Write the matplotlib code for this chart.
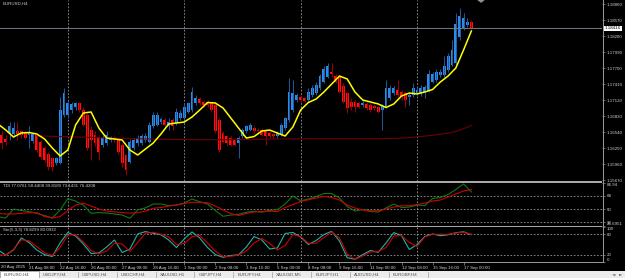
import numpy as np
import matplotlib
matplotlib.use('Agg')
import matplotlib.pyplot as plt
from matplotlib.patches import Rectangle, Polygon
from matplotlib.lines import Line2D

# EURUSD H4, 20 Aug 2025 00:00 .. 17 Sep 2025 08:00 (123 bars)
opens = [
    1.1658, 1.1649, 1.1641, 1.1652, 1.1650, 1.1656, 1.1655, 1.1653, 1.1649, 1.1638,
    1.1649, 1.1636, 1.1625, 1.1615, 1.1606, 1.1597, 1.1597, 1.1685, 1.1685, 1.1694,
    1.1699, 1.1706, 1.1694, 1.1685, 1.1658, 1.1649, 1.1643, 1.1631, 1.1634, 1.1640,
    1.1644, 1.1641, 1.1631, 1.1612, 1.1600, 1.1625, 1.1634, 1.1634, 1.1640, 1.1636,
    1.1664, 1.1667, 1.1673, 1.1676, 1.1664, 1.1676, 1.1670, 1.1679, 1.1679, 1.1691,
    1.1694, 1.1706, 1.1713, 1.1709, 1.1709, 1.1706, 1.1703, 1.1676, 1.1652, 1.1646,
    1.1643, 1.1640, 1.1634, 1.1646, 1.1655, 1.1658, 1.1661, 1.1658, 1.1658, 1.1655,
    1.1652, 1.1650, 1.1646, 1.1649, 1.1661, 1.1676, 1.1694, 1.1712, 1.1718, 1.1715,
    1.1712, 1.1721, 1.1724, 1.1733, 1.1745, 1.1754, 1.1763, 1.1755, 1.1754, 1.1737,
    1.1724, 1.1709, 1.1709, 1.1706, 1.1703, 1.1705, 1.1703, 1.1701, 1.1699, 1.1694,
    1.1700, 1.1715, 1.1724, 1.1730, 1.1727, 1.1724, 1.1718, 1.1721, 1.1725, 1.1724,
    1.1727, 1.1729, 1.1745, 1.1748, 1.1757, 1.1757, 1.1766, 1.1776, 1.1779, 1.1827,
    1.1842, 1.1848, 1.1853]
highs = [
    1.1664, 1.1655, 1.1649, 1.1673, 1.1673, 1.1673, 1.1658, 1.1656, 1.1664, 1.1653,
    1.1652, 1.1640, 1.1629, 1.1618, 1.1609, 1.1609, 1.1718, 1.1733, 1.1712, 1.1709,
    1.1709, 1.1709, 1.1700, 1.1688, 1.1664, 1.1655, 1.1646, 1.1649, 1.1655, 1.1647,
    1.1647, 1.1644, 1.1634, 1.1615, 1.1641, 1.1644, 1.1649, 1.1650, 1.1652, 1.1673,
    1.1691, 1.1691, 1.1682, 1.1679, 1.1679, 1.1679, 1.1697, 1.1694, 1.1706, 1.1709,
    1.1736, 1.1721, 1.1718, 1.1712, 1.1712, 1.1709, 1.1706, 1.1679, 1.1655, 1.1649,
    1.1646, 1.1643, 1.1646, 1.1661, 1.1667, 1.1670, 1.1664, 1.1661, 1.1661, 1.1658,
    1.1655, 1.1653, 1.1655, 1.1670, 1.1682, 1.1751, 1.1748, 1.1724, 1.1721, 1.1718,
    1.1733, 1.1739, 1.1745, 1.1760, 1.1773, 1.1779, 1.1779, 1.1760, 1.1757, 1.1742,
    1.1727, 1.1715, 1.1712, 1.1709, 1.1712, 1.1709, 1.1706, 1.1705, 1.1701, 1.1705,
    1.1748, 1.1739, 1.1737, 1.1748, 1.1731, 1.1729, 1.1725, 1.1742, 1.1735, 1.1739,
    1.1739, 1.1766, 1.1763, 1.1768, 1.1769, 1.1791, 1.1797, 1.1821, 1.1869, 1.1878,
    1.1869, 1.1860, 1.1857]
lows = [
    1.1626, 1.1623, 1.1631, 1.1640, 1.1646, 1.1640, 1.1644, 1.1641, 1.1625, 1.1634,
    1.1618, 1.1605, 1.1600, 1.1585, 1.1584, 1.1594, 1.1596, 1.1682, 1.1679, 1.1688,
    1.1694, 1.1691, 1.1664, 1.1621, 1.1603, 1.1628, 1.1603, 1.1626, 1.1631, 1.1636,
    1.1635, 1.1615, 1.1591, 1.1576, 1.1597, 1.1621, 1.1629, 1.1631, 1.1636, 1.1634,
    1.1661, 1.1664, 1.1669, 1.1664, 1.1658, 1.1658, 1.1667, 1.1676, 1.1676, 1.1688,
    1.1691, 1.1703, 1.1703, 1.1700, 1.1700, 1.1691, 1.1652, 1.1618, 1.1634, 1.1631,
    1.1628, 1.1628, 1.1606, 1.1643, 1.1652, 1.1655, 1.1652, 1.1653, 1.1646, 1.1631,
    1.1643, 1.1643, 1.1643, 1.1646, 1.1658, 1.1673, 1.1691, 1.1709, 1.1709, 1.1708,
    1.1709, 1.1718, 1.1721, 1.1730, 1.1742, 1.1751, 1.1754, 1.1742, 1.1724, 1.1706,
    1.1688, 1.1694, 1.1691, 1.1697, 1.1700, 1.1694, 1.1691, 1.1694, 1.1688, 1.1658,
    1.1697, 1.1712, 1.1721, 1.1718, 1.1712, 1.1700, 1.1703, 1.1718, 1.1721, 1.1719,
    1.1715, 1.1727, 1.1742, 1.1745, 1.1754, 1.1754, 1.1763, 1.1773, 1.1776, 1.1821,
    1.1839, 1.1845, 1.1840]
closes = [
    1.1636, 1.1634, 1.1636, 1.1664, 1.1661, 1.1650, 1.1649, 1.1644, 1.1653, 1.1650,
    1.1621, 1.1609, 1.1603, 1.1591, 1.1591, 1.1606, 1.1694, 1.1724, 1.1706, 1.1705,
    1.1706, 1.1694, 1.1667, 1.1625, 1.1640, 1.1634, 1.1618, 1.1643, 1.1649, 1.1644,
    1.1640, 1.1618, 1.1597, 1.1585, 1.1636, 1.1640, 1.1643, 1.1646, 1.1647, 1.1667,
    1.1685, 1.1685, 1.1677, 1.1667, 1.1673, 1.1664, 1.1691, 1.1688, 1.1700, 1.1706,
    1.1727, 1.1715, 1.1706, 1.1703, 1.1703, 1.1694, 1.1655, 1.1621, 1.1636, 1.1634,
    1.1631, 1.1631, 1.1643, 1.1658, 1.1664, 1.1667, 1.1655, 1.1655, 1.1649, 1.1647,
    1.1646, 1.1646, 1.1652, 1.1667, 1.1679, 1.1727, 1.1724, 1.1721, 1.1712, 1.1711,
    1.1727, 1.1733, 1.1739, 1.1755, 1.1768, 1.1773, 1.1760, 1.1745, 1.1727, 1.1709,
    1.1697, 1.1700, 1.1700, 1.1700, 1.1707, 1.1697, 1.1693, 1.1697, 1.1691, 1.1701,
    1.1733, 1.1733, 1.1733, 1.1721, 1.1718, 1.1712, 1.1721, 1.1733, 1.1731, 1.1733,
    1.1735, 1.1760, 1.1760, 1.1762, 1.1763, 1.1774, 1.1791, 1.1803, 1.1850, 1.1865,
    1.1860, 1.1854, 1.18416]

# indicator samples, every second bar (0, 2, ..., 122)
ma_fast = [
    1.16685, 1.16576, 1.16449, 1.16522, 1.16531, 1.16504, 1.16413, 1.16250, 1.16105, 1.16214,
    1.16667, 1.16884, 1.16903, 1.16612, 1.16431, 1.16413, 1.16395, 1.16214, 1.16123, 1.16232,
    1.16340, 1.16504, 1.16685, 1.16703, 1.16721, 1.16812, 1.16939, 1.17075, 1.17066, 1.16975,
    1.16794, 1.16612, 1.16431, 1.16458, 1.16558, 1.16576, 1.16522, 1.16467, 1.16631, 1.16939,
    1.17075, 1.17138, 1.17265, 1.17410, 1.17555, 1.17501, 1.17265, 1.17120, 1.17084, 1.17048,
    1.16984, 1.17048, 1.17193, 1.17247, 1.17229, 1.17265, 1.17310, 1.17446, 1.17555, 1.17700,
    1.18028, 1.18371]
tdi_price = [
    39.6, 37.9, 50.0, 48.0, 46.6, 44.2, 41.2, 37.9, 48.7, 64.2,
    60.8, 55.4, 44.2, 45.3, 44.6, 43.4, 41.9, 37.5, 48.9, 51.6,
    56.8, 56.8, 54.8, 55.4, 58.1, 63.5, 59.9, 56.8, 48.0, 40.2,
    41.9, 42.9, 45.6, 47.1, 45.7, 48.4, 48.9, 56.8, 67.6, 61.1,
    63.5, 66.9, 71.0, 71.0, 64.9, 53.4, 47.3, 49.4, 46.6, 46.0,
    51.4, 56.8, 52.1, 52.7, 55.4, 54.8, 64.2, 65.6, 69.6, 76.4,
    84.0, 73.1]
tdi_signal = [
    44.2, 43.3, 43.3, 44.2, 45.0, 45.3, 39.9, 37.9, 39.9, 48.0,
    55.4, 58.1, 54.1, 50.0, 47.3, 46.2, 45.3, 44.6, 44.9, 47.3,
    51.0, 52.1, 54.1, 55.4, 57.5, 59.1, 59.1, 58.4, 54.1, 48.7,
    43.9, 41.2, 43.9, 46.0, 46.9, 47.1, 46.6, 52.1, 56.1, 60.2,
    62.5, 64.9, 67.2, 65.6, 62.2, 55.4, 51.4, 48.7, 47.7, 47.7,
    50.0, 52.7, 54.5, 54.5, 56.1, 58.1, 60.8, 62.2, 66.2, 70.3,
    74.4, 76.4]
sto_main = [
    34.5, 20.0, 34.5, 69.3, 56.2, 34.5, 20.9, 15.7, 54.8, 85.2,
    75.1, 51.9, 24.3, 25.8, 43.2, 63.5, 27.2, 37.4, 80.9, 87.8,
    82.9, 78.6, 63.5, 41.7, 66.4, 86.7, 69.3, 41.7, 21.4, 13.3,
    18.6, 20.6, 43.2, 73.6, 63.5, 37.4, 40.3, 82.3, 85.2, 72.2,
    50.4, 62.0, 79.4, 88.7, 60.6, 12.2, 7.5, 21.4, 33.0, 27.8,
    54.8, 84.9, 76.5, 35.9, 50.4, 73.6, 80.9, 75.9, 78.6, 84.6,
    87.2, 78.8]
sto_signal = [
    20.0, 20.0, 35.9, 64.1, 61.2, 44.1, 26.4, 18.8, 41.7, 78.0,
    78.6, 57.7, 32.5, 23.5, 31.6, 53.9, 51.9, 30.1, 56.2, 82.9,
    85.8, 80.3, 72.2, 50.4, 53.3, 73.6, 76.5, 54.8, 31.0, 15.7,
    16.2, 20.0, 31.6, 54.8, 67.8, 53.9, 34.5, 47.5, 79.4, 73.6,
    53.9, 53.9, 70.7, 87.2, 69.3, 22.9, 7.0, 17.1, 28.7, 30.1,
    41.7, 75.1, 76.5, 56.2, 44.6, 72.2, 80.0, 80.0, 80.0, 83.8,
    85.8, 80.1]
# slow moving average, sampled sparsely
ma_slow_bars = [10, 20, 30, 40, 50, 60, 70, 80, 90, 100, 104, 108, 112, 116, 118, 120, 122]
ma_slow = [1.1647, 1.1645, 1.1643, 1.1641, 1.1640, 1.1640, 1.1641, 1.1642, 1.1642, 1.1642,
           1.1643, 1.1645, 1.1648, 1.1652, 1.1655, 1.1660, 1.1666]

price_ticks = [1.18860, 1.18570, 1.18280, 1.17990, 1.17700, 1.17410,
               1.17120, 1.16830, 1.16540, 1.16250, 1.15960, 1.15670]
time_bars = [8, 16, 24, 32, 40, 48, 56, 64, 72, 80, 88, 96, 104, 112, 120]
time_labels = ['21 Aug 08:00', '22 Aug 16:00', '26 Aug 00:00', '27 Aug 08:00',
               '28 Aug 16:00', '1 Sep 00:00', '2 Sep 08:00', '3 Sep 16:00',
               '5 Sep 00:00', '8 Sep 08:00', '9 Sep 16:00', '11 Sep 00:00',
               '12 Sep 08:00', '15 Sep 16:00', '17 Sep 00:00']
week_bars = [18, 48, 78, 108]
tabs = ['EURUSD,H4', 'USDJPY,H4', 'GBPUSD,H4', 'USDCHF,H4', 'XAUUSD,H1', 'GBPJPY,H4',
        'EURJPY,H4', 'XAUUSD,M5', 'EURJPY,H1', 'AUDUSD,H4', 'EURGBP,H4']

plt.rcParams['font.family'] = ['Liberation Sans', 'DejaVu Sans']
W, H = 625, 278
FS = 3.2
GRAY = '#d0d0d0'


def box(x0, y0, x1, y1):
    # pixel box -> figure fraction rect
    return [x0 / W, 1 - y1 / H, (x1 - x0) / W, (y1 - y0) / H]


o = np.array(opens); h = np.array(highs); l = np.array(lows); c = np.array(closes)
idx = np.arange(len(c))
sub = np.arange(0, len(c), 2)
xlim = (2 / 3.88, 604 / 3.88)

fig = plt.figure(figsize=(6.25, 2.78), dpi=100, facecolor='black')
ax = fig.add_axes(box(0, 0, 602, 181))
ax_tdi = fig.add_axes(box(0, 183.2, 602, 226.3))
ax_sto = fig.add_axes(box(0, 227.4, 602, 261.9))

for a in (ax, ax_tdi, ax_sto):
    a.set_facecolor('black')
    a.set_xlim(*xlim)
    for s in a.spines.values():
        s.set_visible(False)
    a.yaxis.tick_right()
    a.tick_params(axis='y', color='#909090', labelcolor=GRAY, labelsize=FS,
                  length=2, width=0.5, pad=1.2)
    a.tick_params(axis='x', bottom=False, labelbottom=False)
    for b in week_bars:
        a.axvline(b, color='#9a9a9a', lw=0.6, ls=(0, (2, 2)))

# candles
up = c >= o
wick_col = np.where(up, '#1d5aa0', '#a00000')
body_col = np.where(up, '#2a8ce8', '#ff1010')
ax.vlines(idx, l, h, colors=wick_col, lw=0.7)
body_h = np.maximum(np.abs(c - o), 0.00012)
ax.bar(idx, body_h, bottom=np.minimum(o, c), width=0.75, color=body_col, lw=0)

ax.plot(ma_slow_bars, ma_slow, color='#6e0000', lw=0.8)
ax.plot(sub, ma_fast, color='#ffff00', lw=1.1)
ax.axhline(closes[-1], color='#6f7a88', lw=0.7)

ax.set_ylim(1.156519, 1.189325)
ax.set_yticks(price_ticks)
ax.set_yticklabels(['%.5f' % p for p in price_ticks])
ax.annotate('%.5f' % closes[-1], xy=(1.0, closes[-1]), xycoords=('axes fraction', 'data'),
            xytext=(2.2, 0), textcoords='offset points', va='center', ha='left',
            fontsize=FS, color='black', annotation_clip=False,
            bbox=dict(boxstyle='square,pad=0.2', fc='white', ec='none'))
ax.text(0.005, 0.99, 'EURUSD,H4', transform=ax.transAxes, va='top', ha='left',
        fontsize=FS, color=GRAY)
# chart shift marker
ax.add_patch(Polygon([[123.5, 1.18933], [125.5, 1.18933], [124.5, 1.18880]],
                     closed=True, fc='#909090', ec='none'))

# TDI
for lv in (68, 50, 32):
    ax_tdi.axhline(lv, color='#9a9a9a', lw=0.6, ls=(0, (2, 2)))
ax_tdi.plot(sub, tdi_price, color='#0f7a0f', lw=0.8)
ax_tdi.plot(sub, tdi_signal, color='#d00000', lw=0.8)
ax_tdi.set_ylim(26.6951, 84.94)
ax_tdi.set_yticks([84.94, 68, 50, 32, 26.6951])
ax_tdi.set_yticklabels(['84.94', '68', '50', '32', '26.6951'])
tl = ax_tdi.get_yticklabels()
tl[0].set_va('top')
tl[4].set_va('bottom')
ax_tdi.text(0.005, 0.97, 'TDI 77.0761 58.4408 39.8180 73.1431 76.4208',
            transform=ax_tdi.transAxes, va='top', ha='left', fontsize=FS, color=GRAY)

# Stochastic
for lv in (80, 20):
    ax_sto.axhline(lv, color='#9a9a9a', lw=0.6, ls=(0, (2, 2)))
ax_sto.plot(sub, sto_main, color='#20b2aa', lw=0.8)
ax_sto.plot(sub, sto_signal, color='#d00000', lw=0.8)
ax_sto.set_ylim(0, 100)
ax_sto.set_yticks([100, 80, 20, 0])
ax_sto.set_yticklabels(['100', '80', '20', '0'])
sl = ax_sto.get_yticklabels()
sl[0].set_va('top')
sl[3].set_va('bottom')
ax_sto.text(0.005, 0.97, 'Sto(5,3,3) 78.8299 80.0932',
            transform=ax_sto.transAxes, va='top', ha='left', fontsize=FS, color=GRAY)

ax_sto.tick_params(axis='x', bottom=True, labelbottom=True, color='#909090',
                   labelcolor=GRAY, labelsize=FS, length=2, width=0.5, pad=1.0)
ax_sto.set_xticks(time_bars)
ax_sto.set_xticklabels(time_labels)
for t in ax_sto.get_xticklabels():
    t.set_ha('left')
fig.text(1 / W, 1 - 266.7 / H, '20 Aug 2025', fontsize=FS, color=GRAY, va='center', ha='left')

# window frame: separators, right border, bottom border
ff = fig.transFigure
fig.add_artist(Rectangle((0, 1 - 183 / H), 602 / W, 2 / H, transform=ff, fc='#a8a8a8', ec='none'))
fig.add_artist(Rectangle((0, 1 - 227.4 / H), 602 / W, 1.4 / H, transform=ff, fc='#a8a8a8', ec='none'))
fig.add_artist(Line2D([602.5 / W, 602.5 / W], [1 - 262 / H, 1], transform=ff, color='#9a9a9a', lw=0.7))
fig.add_artist(Line2D([0, 602.5 / W], [1 - 262 / H, 1 - 262 / H], transform=ff, color='#9a9a9a', lw=0.7))

# tab bar
fig.add_artist(Rectangle((0, 0), 1, 7.5 / H, transform=ff, fc='#ececec', ec='none'))
tab_w = 38.9
for k, name in enumerate(tabs):
    x0 = k * tab_w
    if k == 0:
        fig.add_artist(Rectangle((x0 / W, 0), tab_w / W, 7.5 / H, transform=ff,
                                 fc='white', ec='#909090', lw=0.5))
    else:
        fig.add_artist(Line2D([(x0 + tab_w) / W] * 2, [0.5 / H, 6 / H], transform=ff,
                              color='#a0a0a0', lw=0.5))
    fig.text((x0 + 4) / W, 3.5 / H, name, fontsize=FS, color='#505050', va='center', ha='left')
fig.text(614 / W, 3.5 / H, '\u25c4', fontsize=FS, color='#606060', va='center', ha='center',
         family='DejaVu Sans')
fig.text(621 / W, 3.5 / H, '\u25ba', fontsize=FS, color='#606060', va='center', ha='center',
         family='DejaVu Sans')

fig.savefig('out.png', dpi=100, facecolor='black')
